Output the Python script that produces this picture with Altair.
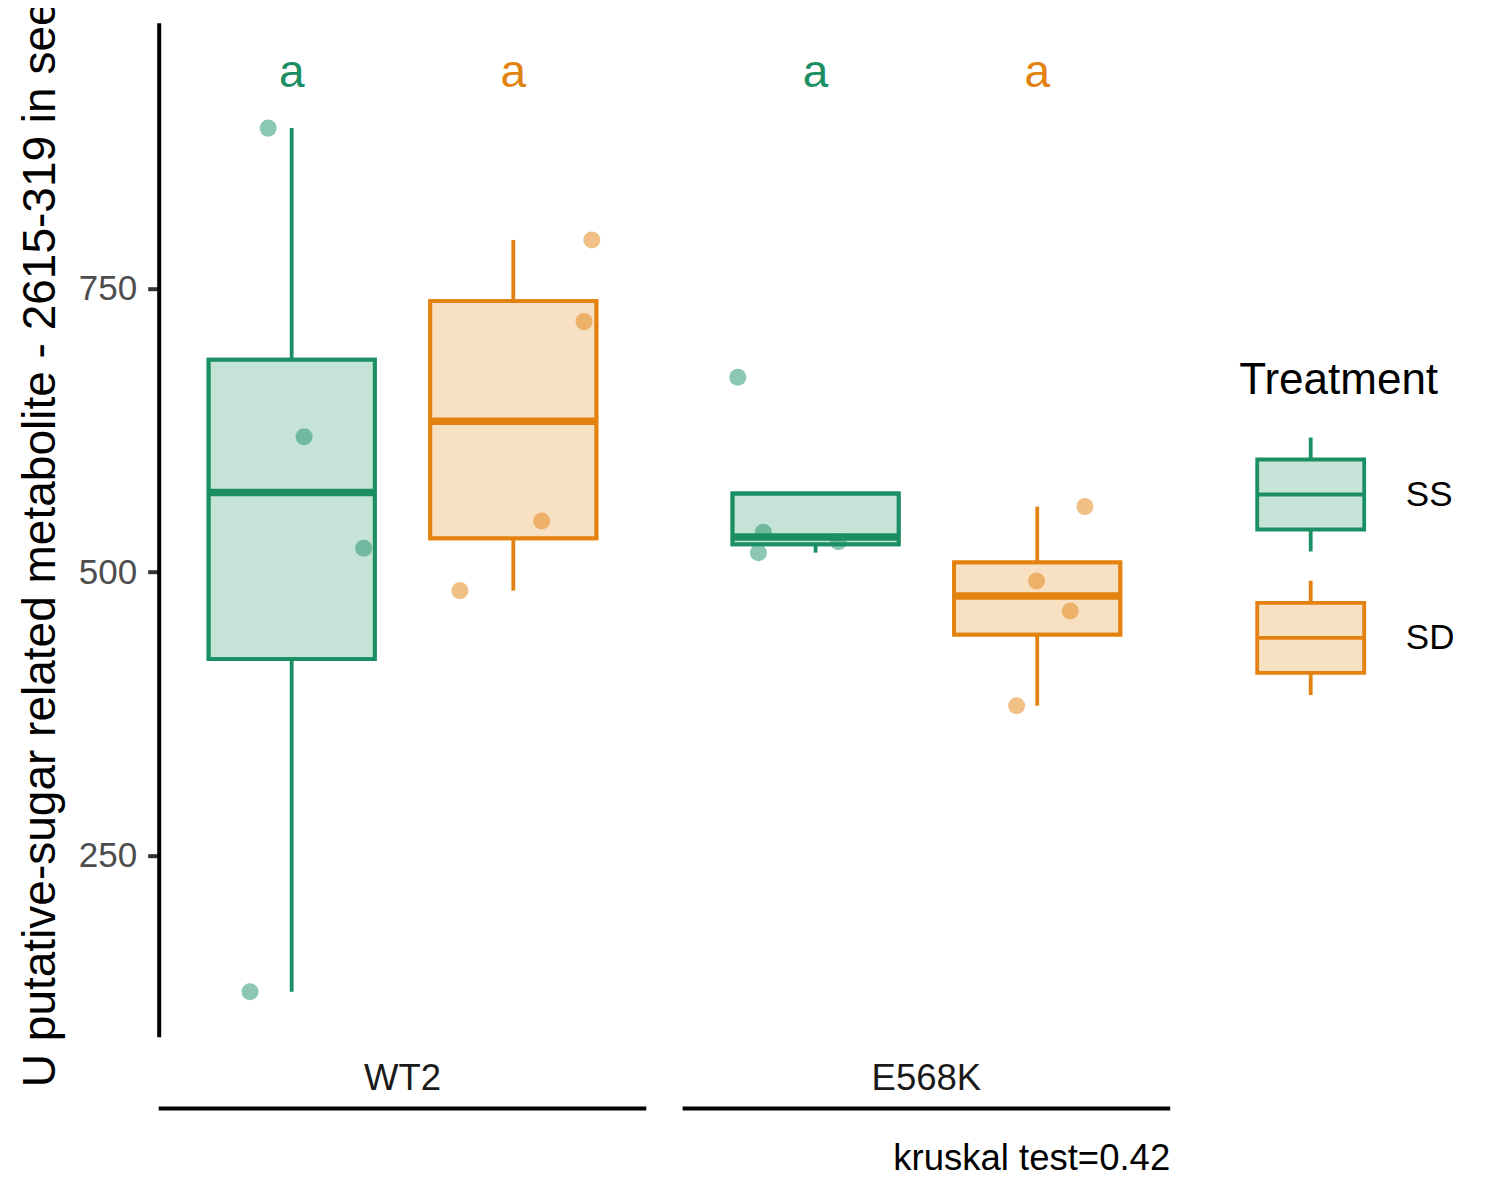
import altair as alt
import numpy as np
import pandas as pd

# ---------------- data ----------------
genotypes = ["WT2", "E568K"]
treatments = ["SS", "SD"]

wt2_ss = [891.7, 619.4, 521.1, 129.9]
wt2_sd = [793.1, 721.0, 545.2, 483.7]
e568k_ss = [671.9, 535.2, 517.2, 526.9]
e568k_sd = [557.8, 492.2, 465.8, 382.2]

# horizontal jitter of each point, in units of one dodge slot
jit_wt2_ss = [-0.106, 0.056, 0.325, -0.188]
jit_wt2_sd = [0.354, 0.319, 0.128, -0.241]
jit_e568k_ss = [-0.351, -0.236, -0.258, 0.103]
jit_e568k_sd = [0.215, -0.003, 0.149, -0.093]

letters_wt2 = ["a", "a"]
letters_e568k = ["a", "a"]
letter_y = 944
kruskal_p = 0.42
y_ticks = [250, 500, 750]
y_limits = [90.2, 984.7]
y_title = "U putative-sugar related metabolite - 2615-319 in seeds"

# ---------------- styling / layout ----------------
FONT = "Liberation Sans"
dark = ["#1A8F63", "#E3820F"]


def blend(hex_color, alpha=0.25):
    r, g, b = (int(hex_color[i:i + 2], 16) for i in (1, 3, 5))
    mix = [round(alpha * c + (1 - alpha) * 255) for c in (r, g, b)]
    return "#" + "".join(f"{c:02X}" for c in mix)


light = [blend(c) for c in dark]

PANEL = 2.2          # slots 0.4 .. 2.6 in each panel
GAP = 0.1638         # gap between the two panels (slot units)
BOX_HALF = 0.375
X_MIN = 0.4
X_MAX = 0.4 + 2 * PANEL + GAP
W, H = 1011.5, 1014


def centre(g, t):
    return genotypes.index(g) * (PANEL + GAP) + 1 + treatments.index(t)


series = {
    ("WT2", "SS"): (wt2_ss, jit_wt2_ss),
    ("WT2", "SD"): (wt2_sd, jit_wt2_sd),
    ("E568K", "SS"): (e568k_ss, jit_e568k_ss),
    ("E568K", "SD"): (e568k_sd, jit_e568k_sd),
}
letters = {
    ("WT2", "SS"): letters_wt2[0], ("WT2", "SD"): letters_wt2[1],
    ("E568K", "SS"): letters_e568k[0], ("E568K", "SD"): letters_e568k[1],
}

pt_rows, box_rows, let_rows = [], [], []
for (g, t), (vals, jit) in series.items():
    c = centre(g, t)
    for v, j in zip(vals, jit):
        pt_rows.append({"Genotype": g, "Treatment": t, "value": v, "x": c + j})
    a = np.array(vals)
    q1, med, q3 = np.percentile(a, [25, 50, 75])
    iqr = q3 - q1
    inside = a[(a >= q1 - 1.5 * iqr) & (a <= q3 + 1.5 * iqr)]
    lo = min(q1, inside.min())
    hi = max(q3, inside.max())
    box_rows.append({"Genotype": g, "Treatment": t, "x": c, "xl": c - BOX_HALF,
                     "xr": c + BOX_HALF, "q1": q1, "med": med, "q3": q3,
                     "lo": lo, "hi": hi})
    let_rows.append({"Treatment": t, "x": c, "y": letter_y, "label": letters[(g, t)]})

pts = pd.DataFrame(pt_rows)
box = pd.DataFrame(box_rows)
lett = pd.DataFrame(let_rows)
strip = pd.DataFrame([
    {"label": g, "xl": X_MIN + i * (PANEL + GAP), "xr": X_MIN + i * (PANEL + GAP) + PANEL,
     "xc": X_MIN + i * (PANEL + GAP) + PANEL / 2}
    for i, g in enumerate(genotypes)
])
cap = pd.DataFrame([{"x": X_MAX, "text": f"kruskal test={kruskal_p}"}])

xs = alt.Scale(domain=[X_MIN, X_MAX], nice=False, zero=False)
ys = alt.Scale(domain=y_limits, nice=False, zero=False)
color_dark = alt.Scale(domain=treatments, range=dark)
fill_scale = alt.Scale(domain=treatments, range=light)
stroke_scale = alt.Scale(domain=treatments, range=dark)

sym_path = ("M-0.769,-0.503H0.769V0.503H-0.769Z"
            "M-0.769,0H0.769"
            "M0,-0.503V-0.82"
            "M0,0.503V0.82")

legend = alt.Legend(
    title="Treatment", orient="none", legendX=1080.5, legendY=336.3,
    padding=0, titlePadding=20, rowPadding=6.4, labelOffset=23.6,
    symbolType=sym_path, symbolSize=19350, symbolStrokeWidth=3.8,
    titleFont=FONT, titleFontSize=44, titleFontWeight="normal", titleColor="black",
    titleLimit=1000, labelLimit=1000,
    labelFont=FONT, labelFontSize=35, labelColor="black",
)

yaxis = alt.Axis(
    values=y_ticks, grid=False, domainColor="black", domainWidth=4,
    tickColor="#333333", tickWidth=4, tickSize=11, labelPadding=11,
    labelFont=FONT, labelFontSize=35, labelColor="#4D4D4D",
    title=y_title, titleFont=FONT, titleFontSize=46, titleFontWeight="normal",
    titleColor="black", titleX=-104, titleY=496.3, titleBaseline="alphabetic",
    titleAngle=270, titleAlign="center", titleLimit=3000,
)


def Y(field):
    return alt.Y(field, scale=ys, axis=yaxis, title=y_title)


box_fill = alt.Chart(box).mark_rect(strokeWidth=3.8).encode(
    x=alt.X("xl:Q", scale=xs, axis=None), x2="xr:Q",
    y=Y("q1:Q"), y2="q3:Q",
    fill=alt.Fill("Treatment:N", scale=fill_scale, legend=legend),
    stroke=alt.Stroke("Treatment:N", scale=stroke_scale, legend=legend),
)

points = alt.Chart(pts).mark_circle(size=290, opacity=0.5).encode(
    x=alt.X("x:Q", scale=xs, axis=None),
    y=Y("value:Q"),
    color=alt.Color("Treatment:N", scale=color_dark, legend=None),
)

whisk_up = alt.Chart(box).mark_rule(strokeWidth=3.8).encode(
    x=alt.X("x:Q", scale=xs, axis=None),
    y=Y("q3:Q"), y2="hi:Q",
    color=alt.Color("Treatment:N", scale=color_dark, legend=None),
)
whisk_lo = alt.Chart(box).mark_rule(strokeWidth=3.8).encode(
    x=alt.X("x:Q", scale=xs, axis=None),
    y=Y("lo:Q"), y2="q1:Q",
    color=alt.Color("Treatment:N", scale=color_dark, legend=None),
)

box_line = alt.Chart(box).mark_rect(fill="transparent", strokeWidth=3.8).encode(
    x=alt.X("xl:Q", scale=xs, axis=None), x2="xr:Q",
    y=Y("q1:Q"), y2="q3:Q",
    stroke=alt.Stroke("Treatment:N", scale=stroke_scale, legend=None),
)

medians = alt.Chart(box).mark_rule(strokeWidth=7.5).encode(
    x=alt.X("xl:Q", scale=xs, axis=None), x2="xr:Q",
    y=Y("med:Q"),
    color=alt.Color("Treatment:N", scale=color_dark, legend=None),
)

letter_marks = alt.Chart(lett).mark_text(font=FONT, fontSize=46, baseline="middle", dy=4).encode(
    x=alt.X("x:Q", scale=xs, axis=None),
    y=Y("y:Q"),
    text="label:N",
    color=alt.Color("Treatment:N", scale=color_dark, legend=None),
)

strip_text = alt.Chart(strip).mark_text(font=FONT, fontSize=36.5, baseline="alphabetic",
                                        color="#1A1A1A").encode(
    x=alt.X("xc:Q", scale=xs, axis=None),
    y=alt.value(1067.1),
    text="label:N",
)
strip_line = alt.Chart(strip).mark_rule(strokeWidth=4, color="black").encode(
    x=alt.X("xl:Q", scale=xs, axis=None), x2="xr:Q",
    y=alt.value(1085.8),
)
caption = alt.Chart(cap).mark_text(font=FONT, fontSize=36.5, baseline="alphabetic",
                                   align="right", color="black").encode(
    x=alt.X("x:Q", scale=xs, axis=None),
    y=alt.value(1147.3),
    text="text:N",
)

chart = alt.layer(
    box_fill, points, whisk_up, whisk_lo, box_line, medians, letter_marks,
    strip_text, strip_line, caption,
).properties(
    width=W, height=H,
    autosize=alt.AutoSizeParams(type="none"),
    padding={"left": 150.7, "top": 14.7, "right": 321.8, "bottom": 155.3},
    background="white",
).configure_view(stroke=None)

chart.save("out.html", embed_options={"renderer": "svg", "actions": False})
